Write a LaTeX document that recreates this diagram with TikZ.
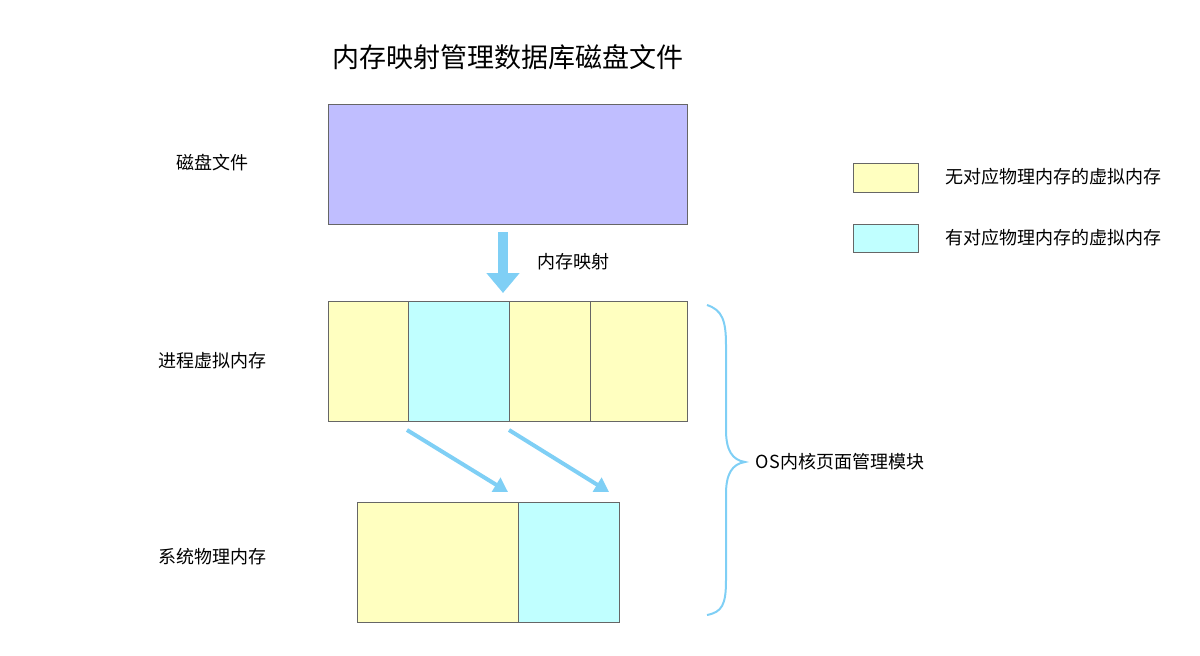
\documentclass[tikz,border=0pt]{standalone}
\usepackage{fontspec}
\setmainfont{Noto Sans CJK SC}
\usetikzlibrary{arrows.meta}
\definecolor{yel}{HTML}{FFFFC0}
\definecolor{cya}{HTML}{C0FFFF}
\definecolor{pur}{HTML}{C0BEFF}
\definecolor{arr}{HTML}{7FCFF5}
\begin{document}
\begin{tikzpicture}[x=0.5pt,y=-0.5pt,
  cell/.style={draw=gray!80!black,line width=0.4pt},
  lab/.style={font=\fontsize{9}{11}\selectfont},
  conn/.style={draw=arr,line width=2pt,-{Triangle[length=7pt,width=8pt]}}]
\useasboundingbox (0,0) rectangle (1200,655);
\node (title) at (508,57) {\fontsize{13.5}{16}\selectfont 内存映射管理数据库磁盘文件};
\draw[cell,fill=pur] (328,104) rectangle (687,224);
\coordinate (disk) at (503,226);
\node[lab] (l1) at (212,163) {磁盘文件};
\draw[draw=arr,line width=5pt,-{Triangle[length=10pt,width=16pt]}] (503,232) -- (503,293);
\node[lab] (l2) at (573,262) {内存映射};
\draw[cell,fill=yel] (328,301) rectangle (408,421);
\draw[cell,fill=cya] (408,301) rectangle (509,421);
\draw[cell,fill=yel] (509,301) rectangle (590,421);
\draw[cell,fill=yel] (590,301) rectangle (687,421);
\node[lab] (l3) at (212,361) {进程虚拟内存};
\coordinate (a1) at (407,430); \coordinate (b1) at (508,492);
\coordinate (a2) at (509,430); \coordinate (b2) at (609,492);
\draw[conn] (a1) -- (b1);
\draw[conn] (a2) -- (b2);
\draw[cell,fill=yel] (357,502) rectangle (518,622);
\draw[cell,fill=cya] (518,502) rectangle (619,622);
\node[lab] (l4) at (212,557) {系统物理内存};
\draw[arr,line width=1pt] (707,305) .. controls (722,310) and (726,320) .. (726,345) -- (726,430)
  .. controls (726,450) and (732,460) .. (745,462)
  .. controls (732,464) and (726,474) .. (726,494) -- (726,580)
  .. controls (726,605) and (722,612) .. (707,615);
\node[lab] (l5) at (840,462) {OS内核页面管理模块};
\draw[cell,fill=yel] (853,163) rectangle (918,192);
\draw[cell,fill=cya] (853,224) rectangle (918,252);
\node[lab,anchor=west] (g1) at (938,177) {无对应物理内存的虚拟内存};
\node[lab,anchor=west] (g2) at (938,238) {有对应物理内存的虚拟内存};
\end{tikzpicture}
\end{document}
